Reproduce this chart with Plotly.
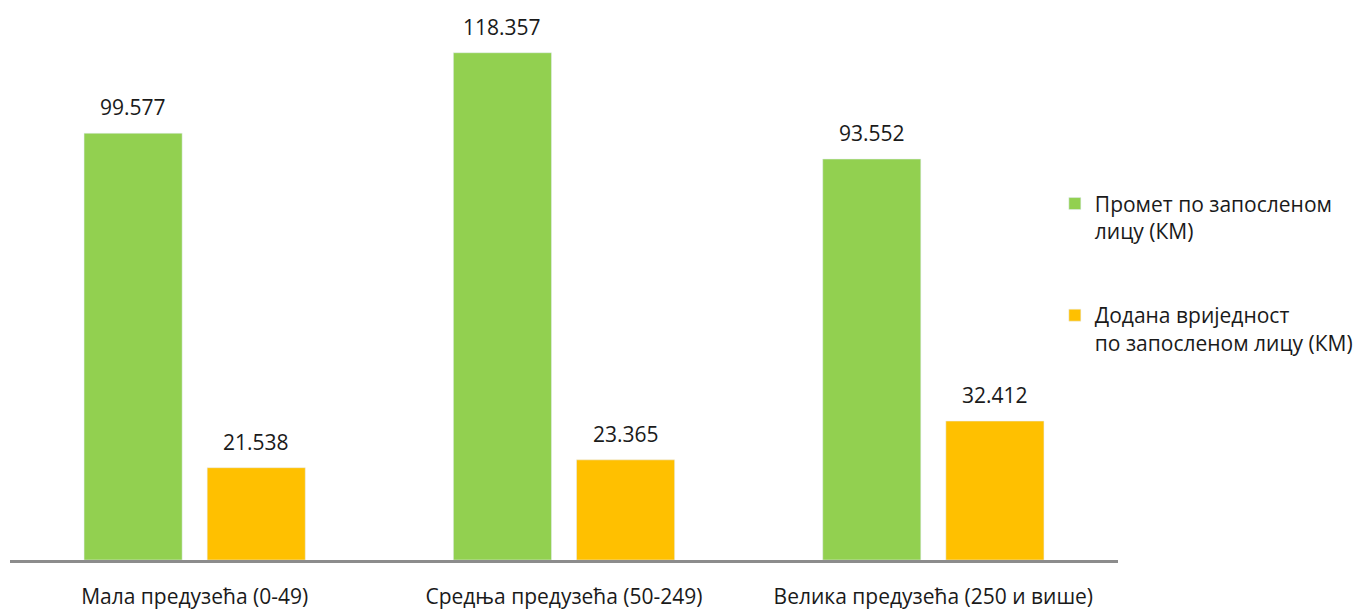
import plotly.graph_objects as go

categories = ["Мала предузећа (0-49)", "Средња предузећа (50-249)", "Велика предузећа (250 и више)"]
promet = [99.577, 118.357, 93.552]
dodana = [21.538, 23.365, 32.412]
labels_promet = ["99.577", "118.357", "93.552"]
labels_dodana = ["21.538", "23.365", "32.412"]
series_names = ["Промет по запосленом<br>лицу (КМ)", "Додана вриједност<br>по запосленом лицу (КМ)"]

FONT = "Open Sans"
FS = 21
GREEN = "#92D050"
ORANGE = "#FFC000"

xs = list(range(len(categories)))
BW = 0.2656
OFF_G = -0.2995
OFF_O = 0.0339

fig = go.Figure()
fig.add_trace(go.Bar(x=xs, y=promet, name=series_names[0], marker_color=GREEN,
                     width=BW, offset=OFF_G, legendgroup="a", hoverinfo="skip"))
fig.add_trace(go.Bar(x=xs, y=dodana, name=series_names[1], marker_color=ORANGE,
                     width=BW, offset=OFF_O, legendgroup="b", hoverinfo="skip"))

annotations = []
for i, (v, t) in enumerate(zip(promet, labels_promet)):
    annotations.append(dict(x=i + OFF_G + BW / 2, y=v, text=t, showarrow=False,
                            yanchor="middle", yshift=26, font=dict(family=FONT, size=FS, color="#1a1a1a")))
for i, (v, t) in enumerate(zip(dodana, labels_dodana)):
    annotations.append(dict(x=i + OFF_O + BW / 2, y=v, text=t, showarrow=False,
                            yanchor="middle", yshift=26, font=dict(family=FONT, size=FS, color="#1a1a1a")))

fig.update_layout(
    width=1361, height=610,
    margin=dict(l=10, r=243, t=0, b=50, autoexpand=False),
    paper_bgcolor="white", plot_bgcolor="white",
    font=dict(family=FONT, size=FS, color="#1a1a1a"),
    barmode="overlay",
    showlegend=True,
    legend=dict(x=0.943, xanchor="left", y=0.6725, yanchor="top", valign="top",
                tracegroupgap=54, font=dict(family=FONT, size=FS, color="#1a1a1a"),
                bgcolor="rgba(0,0,0,0)"),
    annotations=annotations,
)
fig.update_xaxes(range=[-0.5, 2.5], tickmode="array", tickvals=xs, ticktext=categories,
                 showline=True, linecolor="#8c8c8c", linewidth=3, showgrid=False,
                 zeroline=False, ticks="", ticklabelstandoff=16, automargin=False,
                 tickfont=dict(family=FONT, size=FS, color="#1a1a1a"))
fig.update_yaxes(range=[0, 130.66], visible=False, showgrid=False, zeroline=False, automargin=False)

fig.write_html("out.html", config={"displayModeBar": False},
               post_script="document.body.style.margin='0';")
